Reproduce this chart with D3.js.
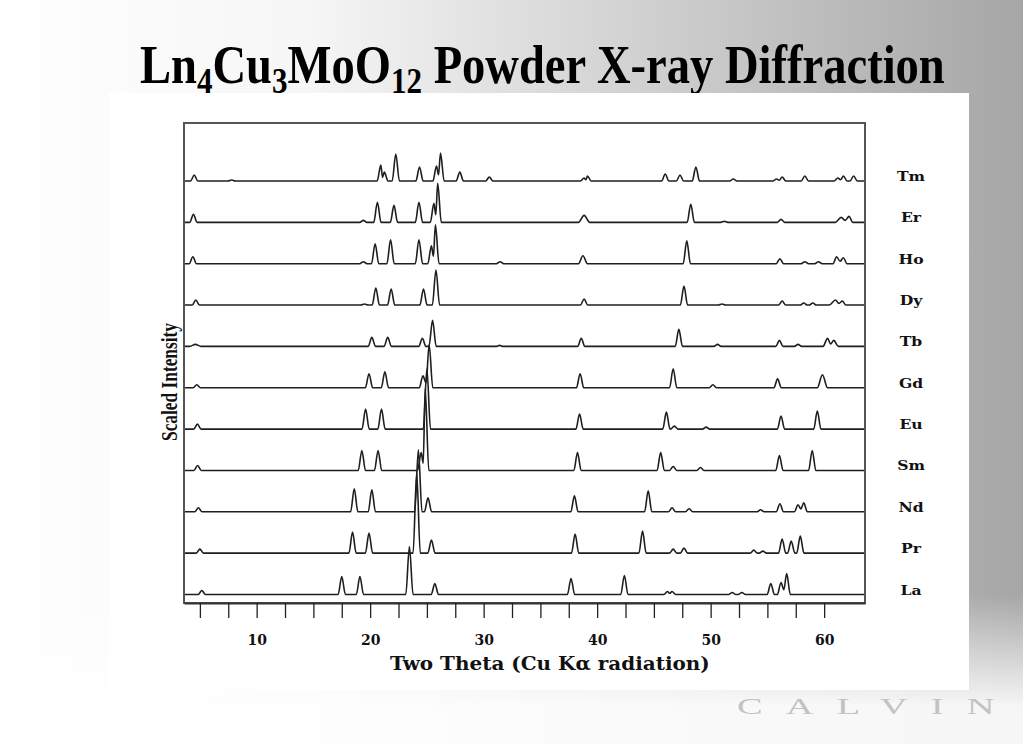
<!DOCTYPE html>
<html><head><meta charset="utf-8">
<script src="https://cdn.jsdelivr.net/npm/d3@7"></script>
<style>html,body{margin:0;padding:0;background:#fff;}svg{display:block;}</style>
</head><body>
<script>
// ---- data (peak position in degrees 2θ, relative intensity, optional width) ----
const labels = ["La","Pr","Nd","Sm","Eu","Gd","Tb","Dy","Ho","Er","Tm"];
const La = [[5.17,4],[17.5,18],[19.1,18],[23.46,48],[25.7,11],[37.7,16],[42.4,19],[46.2,3],[46.6,3],[51.9,2],[52.75,2],[55.3,11],[56.2,12],[56.7,21]];
const Pr = [[5.0,4],[18.45,21],[19.9,20],[24.1,80],[25.4,13],[38.06,19],[44.0,22],[46.7,4],[47.65,5],[53.8,3],[54.6,2],[56.3,14],[57.1,12],[57.9,17]];
const Nd = [[4.87,4],[18.6,23],[20.15,22],[24.25,62],[25.1,14],[38.0,16],[44.5,21],[46.6,4],[48.1,3],[54.4,2],[56.1,8],[57.7,7],[58.2,9]];
const Sm = [[4.8,5],[19.27,20],[20.7,20],[24.5,18],[24.85,82],[38.27,18],[45.6,18],[46.7,4],[49.1,3],[56.06,15],[58.95,20]];
const Eu = [[4.78,5],[19.6,20],[21.0,20],[25.0,60],[38.45,15],[46.1,17],[46.8,3],[49.6,2],[56.2,13],[59.4,18]];
const Gd = [[4.73,3],[19.9,14],[21.3,16],[24.65,12],[25.2,43],[38.5,14],[46.7,19],[50.2,3],[55.9,9],[59.85,13,0.45]];
const Tb = [[4.6,2,0.5],[20.15,9],[21.55,9],[24.6,8],[25.5,26],[31.4,1],[38.6,8],[47.2,17],[50.6,2],[56.06,6],[57.7,2],[60.3,8,0.4],[60.85,6,0.4]];
const Dy = [[4.64,5],[19.5,1],[20.5,17],[21.85,16],[24.7,16],[25.8,35],[38.85,6],[47.65,19],[51.0,1],[56.3,4],[58.2,2],[59.0,2],[61.0,5,0.55],[61.6,4]];
const Ho = [[4.38,7],[19.4,2],[20.44,20],[21.8,24],[24.3,24],[25.4,18],[25.75,39],[31.45,2],[38.75,8,0.4],[47.9,23],[56.1,5],[58.3,2],[59.5,2],[61.1,7],[61.7,6]];
const Er = [[4.43,8],[19.4,2],[20.64,20],[22.1,17],[24.3,20],[25.62,19],[25.95,39],[38.85,7,0.5],[48.25,18],[51.2,1],[56.2,3],[61.5,5,0.5],[62.2,6]];
const Tm = [[4.5,6],[7.8,1],[20.94,16],[21.25,9],[22.26,27],[24.35,14],[25.85,15],[26.2,28],[27.9,9],[30.5,4],[38.85,3],[39.15,5],[46.0,7],[47.3,6],[48.7,14],[52.0,2],[55.8,2],[56.3,4],[58.3,5],[61.2,3],[61.7,5],[62.6,5]];
const xTicks = [5,7.5,10,12.5,15,17.5,20,22.5,25,27.5,30,32.5,35,37.5,40,42.5,45,47.5,50,52.5,55,57.5,60];
const xTickLabels = [10,20,30,40,50,60];

const seriesTable = [La,Pr,Nd,Sm,Eu,Gd,Tb,Dy,Ho,Er,Tm].map((p,i)=>({name:labels[i],peaks:p,index:i}));

const W=1023,H=744;
const svg=d3.select("body").append("svg").attr("width",W).attr("height",H);
const defs=svg.append("defs");
const g1=defs.append("linearGradient").attr("id","bgH").attr("x1",0).attr("y1",0).attr("x2",1).attr("y2",0);
g1.append("stop").attr("offset",0).attr("stop-color","#ffffff");
g1.append("stop").attr("offset",0.3).attr("stop-color","#f6f6f6");
g1.append("stop").attr("offset",1).attr("stop-color","#a6a6a6");
const g2=defs.append("linearGradient").attr("id","bgV").attr("x1",0).attr("y1",0).attr("x2",0).attr("y2",1);
g2.append("stop").attr("offset",0.8).attr("stop-color","#fff").attr("stop-opacity",0);
g2.append("stop").attr("offset",0.95).attr("stop-color","#fff").attr("stop-opacity",0.9);
svg.append("rect").attr("width",W).attr("height",H).attr("fill","url(#bgH)");
svg.append("rect").attr("width",W).attr("height",H).attr("fill","url(#bgV)");

function fitX(sel, targetW, tx, ty){
  const bb=sel.node().getBBox();
  sel.attr("transform",`translate(${tx},${ty}) scale(${targetW/bb.width},1) translate(${-bb.x},0)`);
}

// title
const title=svg.append("text").attr("x",0).attr("y",0)
  .attr("font-family","Liberation Serif, Times New Roman, serif").attr("font-weight","bold")
  .attr("font-size",54).attr("fill","#000");
const parts=[["Ln",0],["4",1],["Cu",0],["3",1],["MoO",0],["12",1],[" Powder X-ray Diffraction",0]];
parts.forEach(([t,s],i)=>{
  const ts=title.append("tspan").text(t);
  if(s){ts.attr("font-size",36).attr("dy",i===0?0:10);} 
  else if(i>0 && parts[i-1][1]){ts.attr("dy",-10);}
});
fitX(title,805,140,83);

// white panel
svg.append("rect").attr("x",109).attr("y",93).attr("width",860).attr("height",597).attr("fill","#fff");

const x=d3.scaleLinear().domain([3.6,63.6]).range([184,865]);
const y=d3.scaleLinear().domain([-8.5,471.5]).range([603,123]);
const offset=41.35;

function tracePoints(peaks){
  const s=peaks.slice().sort((a,b)=>a[0]-b[0]);
  const pts=[[x.domain()[0]+0.05,0]];
  let prev=null;
  s.forEach(pk=>{
    const p=pk[0],h=pk[1],w=pk[2]||0.32;
    if(prev && pts[pts.length-1][0]>p-w){
      pts.pop();
      pts.push([(prev[0]+p)/2,Math.min(prev[1],h)*0.4]);
    } else pts.push([p-w,0]);
    pts.push([p,h]);pts.push([p+w,0]);
    prev=pk;
  });
  pts.push([x.domain()[1]-0.05,0]);
  return pts;
}

const plot=svg.append("g");
seriesTable.forEach(sr=>{
  const base=sr.index*offset;
  const line=d3.line().x(d=>x(d[0])).y(d=>y(d[1]+base)).curve(d3.curveMonotoneX);
  plot.append("path").attr("d",line(tracePoints(sr.peaks))).attr("fill","none")
    .attr("stroke","#1e1e1e").attr("stroke-width",1.6).attr("stroke-linejoin","round");
  const t=svg.append("text").attr("x",0).attr("y",0).attr("text-anchor","middle")
    .attr("font-family","DejaVu Serif, serif").attr("font-weight","bold").attr("font-size",13)
    .attr("fill","#111").text(sr.name);
  t.attr("transform",`translate(911,${y(base)}) scale(1.2,1)`);
});

// frame
svg.append("rect").attr("x",184).attr("y",123).attr("width",681).attr("height",480)
  .attr("fill","none").attr("stroke","#555").attr("stroke-width",2);

const ax=svg.append("g").attr("transform","translate(0,603)")
  .call(d3.axisBottom(x).tickValues(xTicks).tickSize(15).tickSizeOuter(0).tickPadding(17)
    .tickFormat(d=>xTickLabels.includes(d)?d:""));
ax.select(".domain").attr("stroke","#333").attr("stroke-width",2);
ax.selectAll(".tick line").attr("stroke","#222").attr("stroke-width",1.3);
ax.selectAll(".tick text").attr("font-family","DejaVu Serif, serif").attr("font-weight","bold")
  .attr("font-size",14).attr("fill","#111");

const xt=svg.append("text").attr("x",0).attr("y",0)
  .attr("font-family","DejaVu Serif, serif").attr("font-weight","bold").attr("font-size",18)
  .attr("fill","#111").text("Two Theta (Cu K\u03b1 radiation)");
fitX(xt,320,390,670);

const yl=svg.append("text").attr("text-anchor","middle")
  .attr("font-family","Liberation Serif, serif").attr("font-weight","bold").attr("font-size",23)
  .attr("fill","#111").text("Scaled Intensity");
{const w=yl.node().getComputedTextLength();const sx=118/w;
 yl.attr("transform",`translate(177,382) rotate(-90) scale(${sx},1)`);}

const cal=svg.append("text").attr("x",0).attr("y",0)
  .attr("font-family","Liberation Serif, serif").attr("font-size",24).attr("letter-spacing",14.5)
  .attr("fill","#c2c2c2").text("CALVIN");
cal.attr("transform","translate(737,714) scale(1.6,1)");
</script>
</body></html>
